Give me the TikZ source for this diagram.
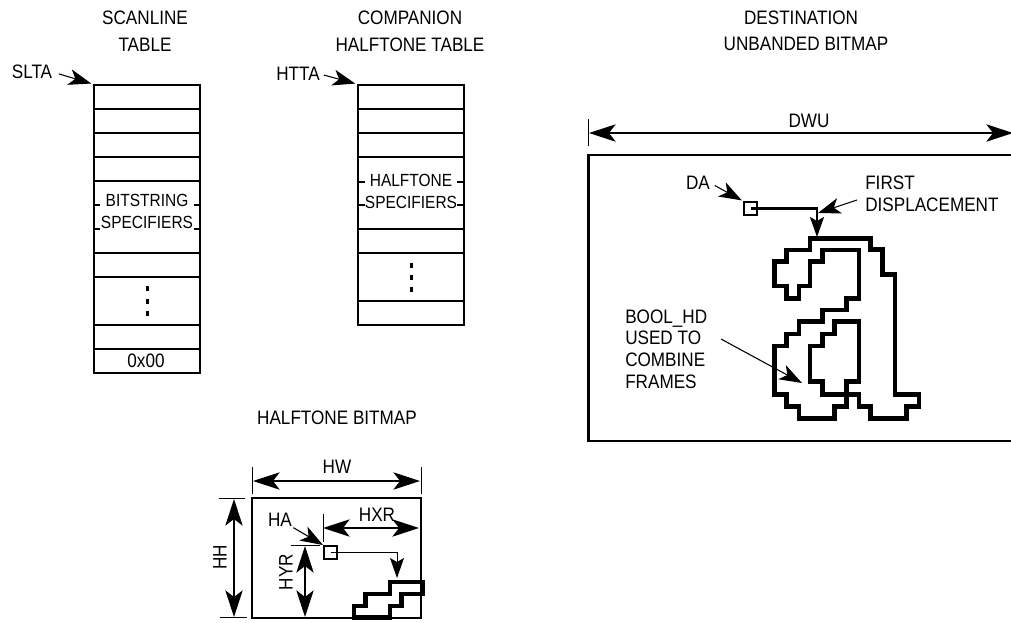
\documentclass[tikz,border=0pt]{standalone}
\usepackage{fontspec}
\setmainfont[FakeStretch=0.88]{Liberation Sans}
\usetikzlibrary{arrows.meta,calc}

\tikzset{
  lbl/.style={inner sep=0pt,font=\fontsize{14.6}{20}\selectfont,align=center},
  lblsmall/.style={lbl,font=\fontsize{13.2}{16}\selectfont},
  lblnarrow/.style={lbl,font=\fontsize{14.6}{16.3}\selectfont,align=left},
  tablebox/.style={draw,line width=1.6pt,minimum width=80pt,inner sep=0pt},
  framebox/.style={draw,line width=1.8pt,inner sep=0pt},
  smallsq/.style={draw,line width=1.7pt,minimum size=9.5pt,inner sep=0pt},
  rowline/.style={line width=1.6pt},
  thinline/.style={line width=0.7pt},
  leader/.style={line width=0.8pt,-{Stealth[length=17pt,width=12pt,inset=4.5pt]}},
  dimline/.style={line width=1pt,{Stealth[length=20pt,width=13pt,inset=5pt]}-{Stealth[length=20pt,width=13pt,inset=5pt]}},
  glyphline/.style={line width=3.6pt}
}

\begin{document}
\begin{tikzpicture}[x=0.75pt,y=-0.75pt]
  \useasboundingbox (0,0) rectangle (1011,622);

  % scanline table
  \node[lbl] (scantitle) at (145,31) {SCANLINE\\TABLE};
  \node[tablebox,minimum height=216pt] (scantable) at (147,229) {};
  \foreach \y in {109,133,157,181,253,277,325,349}
    \draw[rowline] (93.5,\y) -- (200.5,\y);
  \foreach \y in {205,229} {
    \draw[rowline] (93.5,\y) -- (100,\y);
    \draw[rowline] (194,\y) -- (200.5,\y);
  }
  \node[lblsmall] (bitstring) at (147,200) {BITSTRING};
  \node[lblsmall] (scanspec) at (147,222) {SPECIFIERS};
  \foreach \y in {288,301,313}
    \draw[line width=2pt] (147.5,\y-2.5) -- (147.5,\y+2.5);
  \node[lbl] (nullrow) at (146,361) {0x00};
  \node[lbl] (slta) at (32,72) {SLTA};
  \draw[leader,shorten <=5pt,shorten >=1pt] (slta.east) -- (scantable.north west);

  % companion table
  \node[lbl] (comptitle) at (410,31) {COMPANION\\HALFTONE TABLE};
  \node[tablebox,minimum height=180pt] (comptable) at (411,205) {};
  \foreach \y in {109,133,157,229,253,301}
    \draw[rowline] (358,\y) -- (464,\y);
  \foreach \y in {182,205} {
    \draw[rowline] (358,\y) -- (365,\y);
    \draw[rowline] (457,\y) -- (464,\y);
  }
  \node[lblsmall] (halftone) at (411,180) {HALFTONE};
  \node[lblsmall] (compspec) at (411,202) {SPECIFIERS};
  \foreach \y in {265,277,289}
    \draw[line width=2pt] (411.5,\y-2.5) -- (411.5,\y+2.5);
  \node[lbl] (htta) at (298,74) {HTTA};
  \draw[leader,shorten <=3pt,shorten >=1pt] (htta.east) -- (comptable.north west);

  % halftone bitmap
  \node[lbl] (halftitle) at (337,418) {HALFTONE BITMAP};
  \node[framebox,minimum width=126.75pt,minimum height=90pt] (halfmap) at (336.5,558) {};
  \draw[thinline] (252.5,467) -- (252.5,494);
  \draw[thinline] (421,467) -- (421,494);
  \coordinate (hwl) at (253,481);
  \coordinate (hwr) at (420,481);
  \draw[dimline] (hwl) -- (hwr);
  \node[lbl] (hw) at (337,467) {HW};
  \draw[thinline] (219,498) -- (245,498);
  \draw[thinline] (220,617.5) -- (247,617.5);
  \coordinate (hht) at (234,499);
  \coordinate (hhb) at (234,617);
  \draw[dimline] (hht) -- (hhb);
  \node[lbl,rotate=90] (hh) at (220,557) {HH};
  \node[smallsq] (halfsq) at (330.5,552.5) {};
  \node[lbl] (ha) at (280,520) {HA};
  \draw[leader,shorten <=1pt] (ha.south east) -- (halfsq.north west);
  \draw[thinline] (323,514) -- (323,542);
  \coordinate (hxl) at (323,528);
  \coordinate (hxr) at (419,528);
  \draw[dimline] (hxl) -- (hxr);
  \node[lbl] (hxrlabel) at (377,515) {HXR};
  \draw[thinline] (291,545) -- (320,545);
  \coordinate (hyt) at (305,546);
  \coordinate (hyb) at (305,617);
  \draw[dimline] (hyt) -- (hyb);
  \node[lbl,rotate=90] (hyr) at (286,572) {HYR};
  \coordinate (stairtop) at (397,578);
  \draw[thinline,-{Stealth[length=15pt,width=10.5pt,inset=3pt]}] (halfsq.center) -| (stairtop);
  \begin{scope}[shift={(345,570)},x=0.25pt,y=-0.25pt]
    \draw[glyphline] (27,143) -- (27,108) -- (62,108) -- (62,72) -- (135,72) -- (135,36)
      -- (232,36) -- (232,72) -- (170,72) -- (170,108) -- (135,108) -- (135,143) -- cycle;
  \end{scope}

  % destination bitmap
  \node[lbl] (desttitle) at (801,18) {DESTINATION};
  \node[lbl] (desttitleb) at (806,44) {UNBANDED BITMAP};
  \node[framebox,minimum width=322pt,minimum height=214.5pt] (destmap) at (803,298) {};
  \draw[thinline] (588,119) -- (588,146);
  \coordinate (dwl) at (589,133);
  \coordinate (dwr) at (1013,133);
  \draw[dimline] (dwl) -- (dwr);
  \node[lbl] (dwu) at (809,121) {DWU};
  \node[smallsq] (destsq) at (750.5,208.5) {};
  \node[lbl] (da) at (698,183) {DA};
  \draw[leader,shorten <=4pt,shorten >=1pt] (da.east) -- (destsq.north west);
  \coordinate (glyphtop) at (817,237);
  \draw[line width=1.7pt,-{Stealth[length=15pt,width=10.5pt,inset=3pt]}] (destsq.center) -| (glyphtop);
  \node[lblnarrow,anchor=west] (first) at (865,193.5) {FIRST\\DISPLACEMENT};
  \coordinate (firststart) at (857,200);
  \coordinate (firsttip) at (818,213);
  \draw[leader] (firststart) -- (firsttip);
  \node[lblnarrow,anchor=west] (bool) at (625,349) {BOOL\_HD\\USED TO\\COMBINE\\FRAMES};
  \coordinate (boolstart) at (721,339);
  \coordinate (booltip) at (802,383);
  \draw[leader] (boolstart) -- (booltip);
  \begin{scope}[shift={(660,160)},x=0.25pt,y=-0.25pt]
    \draw[glyphline] (450,235) -- (632,235) -- (632,268) -- (668,268) -- (668,343) -- (705,343)
      -- (705,703) -- (777,703) -- (777,740) -- (740,740) -- (740,775) -- (632,775) -- (632,740)
      -- (597,740) -- (597,703) -- (487,703) -- (487,665) -- (450,665) -- (450,558) -- (487,558)
      -- (487,522) -- (523,522) -- (523,485) -- (597,485) -- (597,665) -- (560,665) -- (560,740)
      -- (523,740) -- (523,775) -- (417,775) -- (417,740) -- (380,740) -- (380,703) -- (343,703)
      -- (343,558) -- (380,558) -- (380,522) -- (417,522) -- (417,485) -- (487,485) -- (487,450)
      -- (560,450) -- (560,415) -- (597,415) -- (597,270) -- (487,270) -- (487,305) -- (450,305)
      -- (450,378) -- (417,378) -- (417,415) -- (380,415) -- (380,378) -- (343,378) -- (343,305)
      -- (380,305) -- (380,270) -- (450,270) -- cycle;
  \end{scope}
\end{tikzpicture}
\end{document}
